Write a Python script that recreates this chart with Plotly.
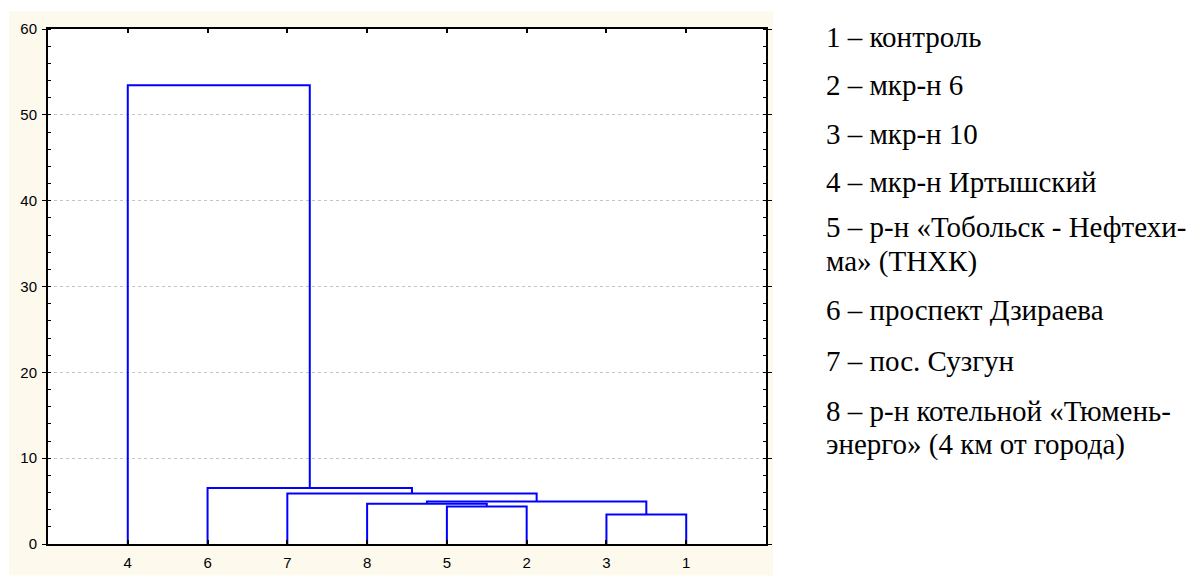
import plotly.graph_objects as go

# ---------------- data ----------------
leaf_labels = ["4", "6", "7", "8", "5", "2", "3", "1"]          # order along the x axis
merge_left = ["3", "5", "8", "C3", "7", "6", "4"]
merge_right = ["1", "2", "C2", "C1", "C4", "C5", "C6"]
merge_height = [3.45, 4.37, 4.68, 4.95, 5.87, 6.52, 53.45]      # linkage distance

legend_rows = [
    "1 – контроль",
    "2 – мкр-н 6",
    "3 – мкр-н 10",
    "4 – мкр-н Иртышский",
    "5 – р-н «Тобольск - Нефтехи-",
    "ма» (ТНХК)",
    "6 – проспект Дзираева",
    "7 – пос. Сузгун",
    "8 – р-н котельной «Тюмень-",
    "энерго» (4 км от города)",
]
y_ticks = [0, 10, 20, 30, 40, 50, 60]

# ---------------- dendrogram geometry from linkage ----------------
pos = {lab: i + 1 for i, lab in enumerate(leaf_labels)}
hgt = {lab: 0.0 for lab in leaf_labels}
xs, ys = [], []
for k, (a, b, h) in enumerate(zip(merge_left, merge_right, merge_height), start=1):
    xa, xb = pos[a], pos[b]
    xs += [xa, xa, xb, xb, None]
    ys += [hgt[a], h, h, hgt[b], None]
    name = f"C{k}"
    pos[name] = (xa + xb) / 2
    hgt[name] = h

# ---------------- layout geometry (pixels) ----------------
FW, FH = 1195, 583
L, R, T, B = 48, 766, 29, 551
PW, PH = R - L, B - T


def px(x):
    return (x - L) / PW


def py(y):
    return (B - y) / PH


fig = go.Figure()
fig.add_trace(go.Scatter(x=xs, y=ys, mode="lines",
                         line=dict(color="#0000ff", width=2),
                         hoverinfo="skip", showlegend=False))

shapes = [
    dict(type="rect", xref="paper", yref="paper", layer="below",
         x0=px(9), x1=px(773), y0=py(583), y1=py(11),
         fillcolor="#fdf9ed", line=dict(width=0)),
    dict(type="rect", xref="paper", yref="paper", layer="below",
         x0=0, x1=1, y0=0, y1=1, fillcolor="white", line=dict(width=0)),
]

font_size = 29
row_base = [47, 96, 145, 194, 240, 274, 324, 375, 426, 460]
annotations = []
for txt, yb in zip(legend_rows, row_base):
    annotations.append(dict(
        text=txt, xref="paper", yref="paper",
        x=px(824), y=py(yb - 0.338 * font_size),
        xanchor="left", yanchor="middle", showarrow=False,
        font=dict(family="Liberation Serif", size=font_size, color="black"),
    ))

tick_font = dict(family="Liberation Sans", size=15, color="black")

fig.update_layout(
    width=FW, height=FH,
    margin=dict(l=L, r=FW - R, t=T, b=FH - B, pad=0),
    paper_bgcolor="white", plot_bgcolor="white",
    shapes=shapes, annotations=annotations,
    font=tick_font,
    showlegend=False,
)
fig.update_xaxes(
    range=[0, 9], tickvals=list(range(1, len(leaf_labels) + 1)), ticktext=leaf_labels,
    tickfont=tick_font,
    showgrid=False, zeroline=False, showline=True, linecolor="black", linewidth=2,
    mirror="ticks", ticks="inside", ticklen=4, tickcolor="black", tickwidth=2,
    ticklabelstandoff=4,
)
fig.update_yaxes(
    range=[0, 60], tickvals=y_ticks, tickfont=tick_font,
    showgrid=True, gridcolor="#c4c4c4", griddash="dot", gridwidth=1,
    zeroline=False, showline=True, linecolor="black", linewidth=2,
    mirror="ticks", ticks="outside", ticklen=4, tickcolor="black", tickwidth=1,
    ticklabelstandoff=2,
    minor=dict(dtick=2, ticks="inside", ticklen=3, tickcolor="black", showgrid=False),
)

fig.write_html("out.html", config={"displayModeBar": False},
               post_script="document.body.style.margin='0';document.body.style.overflow='hidden';")
